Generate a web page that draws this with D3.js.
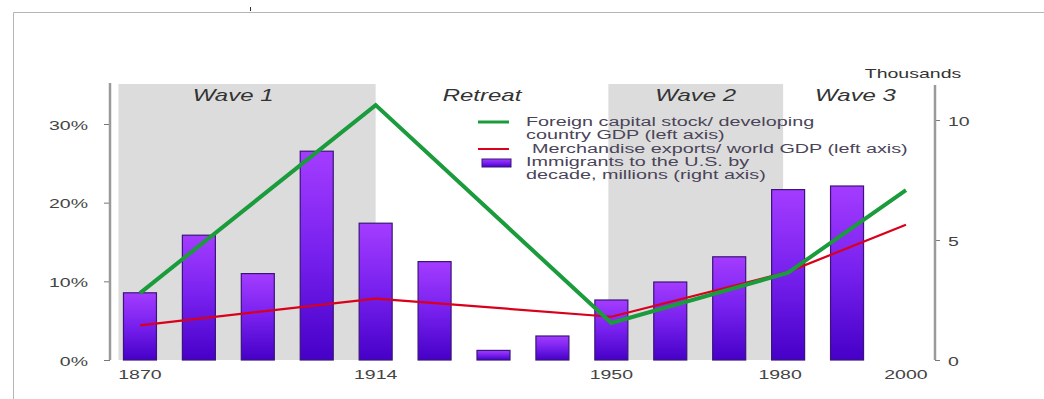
<!DOCTYPE html>
<html>
<head>
<meta charset="utf-8">
<script src="https://cdnjs.cloudflare.com/ajax/libs/d3/7.8.5/d3.min.js"></script>
<style>
  body { margin: 0; background: #fff; }
  svg { display: block; font-family: "Liberation Sans", Arial, sans-serif; }
</style>
</head>
<body>
<div id="chart"></div>
<script>
// Immigrants to the U.S. by decade (thousands, right axis)
const decades = ['1870s', '1880s', '1890s', '1900s', '1910s', '1920s', '1930s',
                 '1940s', '1950s', '1960s', '1970s', '1980s', '1990s'];
const immigrants = [2.8, 5.2, 3.6, 8.7, 5.7, 4.1, 0.4, 1.0, 2.5, 3.25, 4.3, 7.1, 7.25];

// Left-axis series, percent
const lineYears = [1870, 1914, 1950, 1980, 2000];
const foreignCapital = [8.5, 32.4, 4.7, 11.1, 21.6];
const merchExports = [4.4, 7.8, 5.5, 11.2, 17.2];

// Globalisation periods
const periods = [
    { name: 'Wave 1', from: 1870, to: 1914, shaded: true },
    { name: 'Retreat', from: 1914, to: 1950, shaded: false },
    { name: 'Wave 2', from: 1950, to: 1980, shaded: true },
    { name: 'Wave 3', from: 1980, to: 2000, shaded: false }
];

const leftTicks = [0, 10, 20, 30];
const rightTicks = [0, 5, 10];
const xTickYears = [1870, 1914, 1950, 1980, 2000];

const legendItems = [
    { type: 'line', color: '#1a9b3c', width: 3, lines: ['Foreign capital stock/ developing', 'country GDP (left axis)'] },
    { type: 'line', color: '#d9001b', width: 2, lines: ['Merchandise exports/ world GDP (left axis)'] },
    { type: 'rect', lines: ['Immigrants to the U.S. by', 'decade, millions (right axis)'] }
];

const width = 1044, height = 399;
const SX = 1.5; // text in the source is stretched horizontally
const plotTop = 84, plotBottom = 360;
const axisLeftX = 110, axisRightX = 935;

const svg = d3.select('#chart').append('svg')
    .attr('width', width)
    .attr('height', height);

// text helper with horizontal stretch
function stretchText(g, x, y, str, anchor, sx) {
    return g.append('text')
        .attr('transform', `translate(${x},${y}) scale(${sx || SX},1)`)
        .attr('text-anchor', anchor || 'start')
        .text(str);
}

// outer frame
svg.append('path')
    .attr('d', `M13.5,${height} V12.5 H${width}`)
    .attr('fill', 'none')
    .attr('stroke', '#b5b5b5');
svg.append('line')
    .attr('x1', 250.5).attr('x2', 250.5).attr('y1', 7).attr('y2', 11)
    .attr('stroke', '#333');

// scales
const x = d3.scaleBand()
    .domain(decades)
    .range([110.5, 876.5])
    .paddingInner(0.44)
    .paddingOuter(0.22);

const step = x.step();
const firstCenter = x(decades[0]) + x.bandwidth() / 2;
// years map onto the decade slot they fall in
const yearX = yr => firstCenter + Math.floor((yr - 1870) / 10) * step;

const yLeft = d3.scaleLinear().domain([0, 30]).range([plotBottom, 124]);
const yRight = d3.scaleLinear().domain([0, 10]).range([plotBottom, 120]);

// shaded periods
const shadeG = svg.append('g');
periods.forEach(p => {
    const x0 = p.from === 1870 ? x(decades[0]) - 5 : yearX(p.from) - 3;
    const x1 = p.to === 1980 ? yearX(p.to) - 5 : yearX(p.to);
    p.x0 = x0; p.x1 = x1;
    if (p.shaded) {
        shadeG.append('rect')
            .attr('x', x0).attr('y', plotTop)
            .attr('width', x1 - x0).attr('height', plotBottom - plotTop)
            .attr('fill', '#dcdcdc');
    }
});

const waveG = svg.append('g')
    .attr('font-size', 16)
    .attr('font-style', 'italic')
    .attr('fill', '#333');
periods.forEach(p => {
    let cx = (p.x0 + p.x1) / 2;
    if (p.from === 1870) cx -= 14;
    if (p.from === 1914) cx -= 10;
    if (p.from === 1980) cx += 10;
    stretchText(waveG, cx, 101, p.name, 'middle');
});

// bar gradient
const defs = svg.append('defs');
const grad = defs.append('linearGradient')
    .attr('id', 'barGrad')
    .attr('x1', 0).attr('y1', 0).attr('x2', 0).attr('y2', 1);
grad.append('stop').attr('offset', '0%').attr('stop-color', '#a43cff');
grad.append('stop').attr('offset', '50%').attr('stop-color', '#7720ee');
grad.append('stop').attr('offset', '100%').attr('stop-color', '#4600c8');

// bars
svg.append('g')
    .selectAll('rect')
    .data(decades)
    .join('rect')
    .attr('x', d => x(d))
    .attr('y', (d, i) => yRight(immigrants[i]))
    .attr('width', x.bandwidth())
    .attr('height', (d, i) => plotBottom - yRight(immigrants[i]))
    .attr('fill', 'url(#barGrad)')
    .attr('stroke', '#3a1478')
    .attr('stroke-width', 1.2);

// lines
const line = d3.line()
    .x((d, i) => yearX(lineYears[i]))
    .y(d => yLeft(d));

svg.append('path')
    .datum(merchExports)
    .attr('d', line)
    .attr('fill', 'none')
    .attr('stroke', '#d9001b')
    .attr('stroke-width', 2.2)
    .attr('stroke-linejoin', 'round');

svg.append('path')
    .datum(foreignCapital)
    .attr('d', line)
    .attr('fill', 'none')
    .attr('stroke', '#1a9b3c')
    .attr('stroke-width', 4)
    .attr('stroke-linejoin', 'miter');

// left axis
const leftAxis = svg.append('g')
    .attr('transform', `translate(${axisLeftX},0)`)
    .call(d3.axisLeft(yLeft).tickValues(leftTicks).tickSize(6).tickFormat(d => d + '%'));
leftAxis.select('.domain').remove();
leftAxis.selectAll('.tick line').attr('stroke', '#777');
leftAxis.selectAll('.tick text')
    .attr('x', 0).attr('dy', null)
    .attr('font-size', 13)
    .attr('fill', '#444')
    .attr('font-family', '"Liberation Sans", Arial, sans-serif')
    .attr('transform', `translate(-22,5) scale(${SX},1)`);
leftAxis.append('line')
    .attr('y1', plotTop - 1).attr('y2', plotBottom)
    .attr('stroke', '#9a9a9a').attr('stroke-width', 2.5);

// right axis
const rightAxis = svg.append('g')
    .attr('transform', `translate(${axisRightX},0)`)
    .call(d3.axisRight(yRight).tickValues(rightTicks).tickSize(5));
rightAxis.select('.domain').remove();
rightAxis.selectAll('.tick line').attr('stroke', '#777');
rightAxis.selectAll('.tick text')
    .attr('x', 0).attr('dy', null)
    .attr('font-size', 13)
    .attr('fill', '#444')
    .attr('font-family', '"Liberation Sans", Arial, sans-serif')
    .attr('transform', `translate(13,5) scale(${SX},1)`);
rightAxis.append('line')
    .attr('y1', plotTop + 1).attr('y2', plotBottom)
    .attr('stroke', '#9a9a9a').attr('stroke-width', 2.5);

const unitG = svg.append('g').attr('font-size', 13).attr('fill', '#333');
stretchText(unitG, 913, 78, 'Thousands', 'middle');

// x labels
const xLabG = svg.append('g').attr('font-size', 13).attr('fill', '#444');
xTickYears.forEach(yr => {
    stretchText(xLabG, yearX(yr) - (yr === 1980 ? 8 : 0), 379, String(yr), 'middle');
});

// legend
const legend = svg.append('g').attr('font-size', 12).attr('fill', '#4a4458');
const legendRows = [126, 153, 166];
legendItems.forEach((item, i) => {
    const ry = legendRows[i];
    if (item.type === 'line') {
        legend.append('line')
            .attr('x1', 478).attr('x2', 509)
            .attr('y1', ry - 4).attr('y2', ry - 4)
            .attr('stroke', item.color)
            .attr('stroke-width', item.width);
    } else {
        legend.append('rect')
            .attr('x', 482).attr('y', ry - 7)
            .attr('width', 29).attr('height', 8)
            .attr('fill', 'url(#barGrad)')
            .attr('stroke', '#3a1478');
    }
    item.lines.forEach((t, j) => {
        stretchText(legend, i === 1 ? 532 : 526, ry + j * 13, t, 'start', 1.65);
    });
});
</script>
</body>
</html>
